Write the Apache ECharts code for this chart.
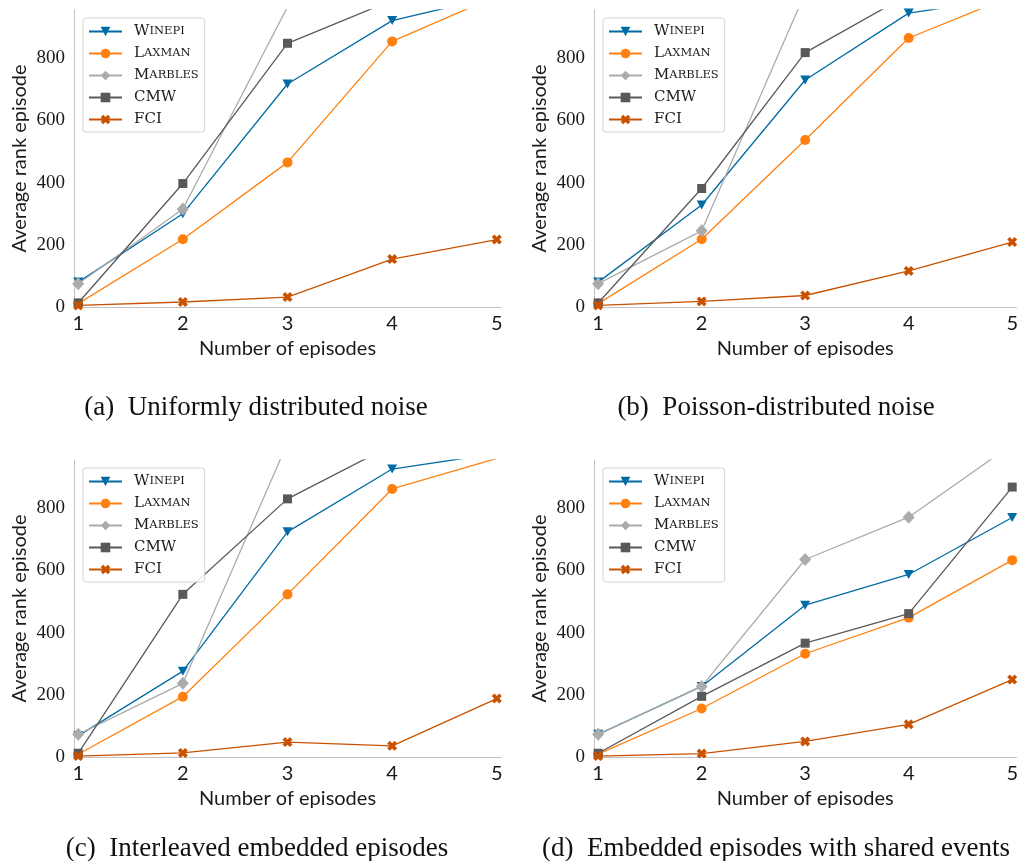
<!DOCTYPE html>
<html>
<head>
<meta charset="utf-8">
<script src="https://cdn.jsdelivr.net/npm/echarts@6/dist/echarts.min.js"></script>
<style>
  html, body { margin: 0; padding: 0; background: #ffffff; }
  #chart { width: 1021px; height: 861px; }
</style>
</head>
<body>
<div id="chart"></div>
<script>
// Number of embedded episodes (x positions shared by all panels)
const episodes = [1, 2, 3, 4, 5];
const methods = ['Winepi', 'Laxman', 'Marbles', 'CMW', 'FCI'];
const yTicks = [0, 200, 400, 600, 800];

// (a) Uniformly distributed noise
const uniformWinepi  = [80, 300, 717, 921, 1000];
const uniformLaxman  = [11, 218, 465, 854, 1000];
const uniformMarbles = [75, 315, 965, 1000, 1000];
const uniformCMW     = [13, 397, 848, 986, 1000];
const uniformFCI     = [5, 16, 32, 154, 217];

// (b) Poisson-distributed noise
const poissonWinepi  = [80, 328, 730, 945, 995];
const poissonLaxman  = [11, 218, 537, 865, 1000];
const poissonMarbles = [75, 245, 1010, 1020, 1020];
const poissonCMW     = [13, 381, 818, 1005, 1010];
const poissonFCI     = [5, 18, 37, 116, 209];

// (c) Interleaved embedded episodes
const interWinepi  = [68, 276, 724, 926, 976];
const interLaxman  = [9, 194, 523, 862, 960];
const interMarbles = [73, 237, 1010, 1010, 1010];
const interCMW     = [12, 523, 830, 1003, 1010];
const interFCI     = [3, 13, 48, 36, 188];

// (d) Embedded episodes with shared events
const sharedWinepi  = [73, 227, 488, 587, 770];
const sharedLaxman  = [9, 156, 332, 448, 633];
const sharedMarbles = [73, 227, 635, 771, 1005];
const sharedCMW     = [12, 195, 366, 461, 868];
const sharedFCI     = [3, 11, 50, 105, 249];

const captions = [
  '(a)  Uniformly distributed noise',
  '(b)  Poisson-distributed noise',
  '(c)  Interleaved embedded episodes',
  '(d)  Embedded episodes with shared events'
];

const panels = [
  [uniformWinepi, uniformLaxman, uniformMarbles, uniformCMW, uniformFCI],
  [poissonWinepi, poissonLaxman, poissonMarbles, poissonCMW, poissonFCI],
  [interWinepi, interLaxman, interMarbles, interCMW, interFCI],
  [sharedWinepi, sharedLaxman, sharedMarbles, sharedCMW, sharedFCI]
];

// Styling per method: colour and marker
const colors = ['#006BA4', '#FF800E', '#ABABAB', '#595959', '#C85200'];
const xMarker = 'path://M14.6,0.45 L19.55,5.4 L14.95,10 L19.55,14.6 L14.6,19.55 L10,14.95 L5.4,19.55 L0.45,14.6 L5.05,10 L0.45,5.4 L5.4,0.45 L10,5.05 Z';
const symbols = ['triangle', 'circle', 'diamond', 'rect', xMarker];
const symbolSizes = [[10, 9], 10, [12, 13], 9, 10];
const symbolRotates = [180, 0, 0, 0, 0];

// Legend labels in small caps
const legendRich = {
  g: { width: 7 },
  c: { fontFamily: 'DejaVu Serif', fontSize: 15, color: '#1a1a1a', lineHeight: 12 },
  s: { fontFamily: 'DejaVu Serif', fontSize: 11.5, color: '#1a1a1a', lineHeight: 12 }
};
function smallCaps(name) {
  if (name === name.toUpperCase()) return '{g|}{c|' + name + '}';
  return '{g|}{c|' + name[0] + '}{s|' + name.slice(1).toUpperCase() + '}';
}

const gridLefts = [74, 594, 74, 594];
const gridTops = [10, 10, 460, 460];
const captionPos = [[256, 408], [776, 408], [257, 849], [776, 849]];

const grids = [], xAxes = [], yAxes = [], series = [], legends = [], graphics = [];

panels.forEach((panel, p) => {
  grids.push({ left: gridLefts[p], top: gridTops[p], width: 427, height: 297 });
  xAxes.push({
    type: 'value', gridIndex: p, min: 0.96, max: 5.04,
    name: 'Number of episodes', nameLocation: 'middle', nameGap: 32,
    nameTextStyle: { fontFamily: 'Lato', fontSize: 20, color: '#1a1a1a' },
    axisLine: { show: true, lineStyle: { color: '#b5b5b5', width: 1, type: 'dotted' } },
    axisTick: { show: false },
    splitLine: { show: false },
    axisLabel: {
      customValues: episodes, margin: 7,
      fontFamily: 'Lato', fontSize: 20, color: '#1a1a1a',
      formatter: v => String(Math.round(v))
    }
  });
  yAxes.push({
    type: 'value', gridIndex: p, min: 0, max: 955,
    name: 'Average rank episode', nameLocation: 'middle', nameGap: 44, nameRotate: 90,
    nameTextStyle: { fontFamily: 'Lato', fontSize: 20, color: '#1a1a1a' },
    axisLine: { show: true, lineStyle: { color: '#b5b5b5', width: 1, type: 'dotted' } },
    axisTick: { show: false },
    splitLine: { show: false },
    axisLabel: {
      customValues: yTicks, margin: 9,
      fontFamily: 'Liberation Serif', fontSize: 19, color: '#1a1a1a'
    }
  });
  panel.forEach((vals, m) => {
    series.push({
      id: 'p' + p + '_' + m, name: methods[m], type: 'line',
      xAxisIndex: p, yAxisIndex: p,
      data: episodes.map((x, i) => [x, vals[i]]),
      symbol: symbols[m], symbolSize: symbolSizes[m], symbolRotate: symbolRotates[m],
      showAllSymbol: true,
      clip: true,
      color: colors[m],
      lineStyle: { width: 1.3, color: colors[m] },
      itemStyle: { color: colors[m] },
      emphasis: { disabled: true },
      animation: false
    });
  });
  legends.push({
    data: methods.map(n => ({ name: n })),
    orient: 'vertical',
    left: gridLefts[p] + 9, top: gridTops[p] + 8,
    padding: [6, 6, 5, 5],
    itemWidth: 33, itemHeight: 12, itemGap: 7,
    borderColor: '#d4d4d4', borderWidth: 1, borderRadius: 3,
    backgroundColor: 'rgba(255,255,255,0.85)',
    selectedMode: false,
    formatter: smallCaps,
    textStyle: { rich: legendRich, lineHeight: 12 }
  });
  graphics.push({
    type: 'text', x: captionPos[p][0], y: captionPos[p][1],
    style: {
      text: captions[p], fill: '#111',
      font: '27px "Liberation Serif"',
      textAlign: 'center', textVerticalAlign: 'middle'
    }
  });
});

const chart = echarts.init(document.getElementById('chart'), null, { renderer: 'canvas' });
chart.setOption({
  animation: false,
  backgroundColor: '#ffffff',
  grid: grids,
  xAxis: xAxes,
  yAxis: yAxes,
  legend: legends,
  series: series,
  graphic: graphics
});
</script>
</body>
</html>
